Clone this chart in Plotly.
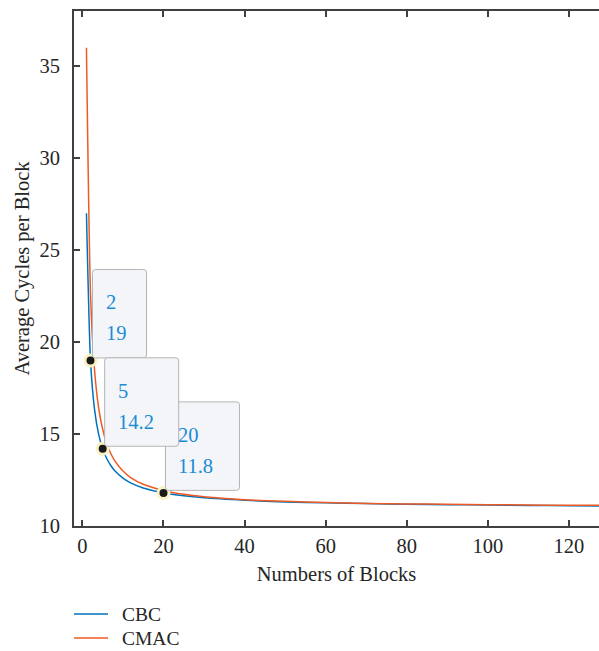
import plotly.graph_objects as go

# ---- data ----
blocks = [1, 2, 3, 4, 5, 6, 7, 8, 10, 12, 15, 20, 25, 30, 40, 50, 60, 70, 80, 90, 100, 110, 120, 130]
cbc = [27, 19, 16.33, 15, 14.2, 13.67, 13.29, 13, 12.6, 12.33, 12.07, 11.8, 11.64, 11.53,
       11.4, 11.31, 11.26, 11.22, 11.18, 11.16, 11.14, 11.12, 11.1, 11.09]
cmac = [36, 22.66, 18.47, 16.44, 15.26, 14.48, 13.94, 13.54, 12.99, 12.62, 12.27, 11.93, 11.72, 11.59,
        11.43, 11.34, 11.28, 11.23, 11.2, 11.18, 11.16, 11.14, 11.13, 11.12]
tip_x = [2, 5, 20]
tip_y = [19, 14.2, 11.8]
tip_x_labels = ["2", "5", "20"]
tip_y_labels = ["19", "14.2", "11.8"]
x_ticks = [0, 20, 40, 60, 80, 100, 120]
y_ticks = [10, 15, 20, 25, 30, 35]
series_names = ["CBC", "CMAC"]

FONT = "Liberation Serif"
FS = 20.5
TXT = "#262626"
BLUE = "#0072BD"
ORANGE = "#EE5A24"
TIPTXT = "#1b8bd4"
colors = [BLUE, ORANGE]

W, H = 599, 651
M = dict(l=74, r=0, t=11, b=125)
PW = W - M["l"] - M["r"]
PH = H - M["t"] - M["b"]

fig = go.Figure()
for name, vals, col in zip(series_names, [cbc, cmac], colors):
    fig.add_trace(go.Scatter(x=blocks, y=vals, mode="lines", name=name, showlegend=False,
                             line=dict(color=col, width=1.5, shape="spline", smoothing=0.6)))
fig.add_trace(go.Scatter(x=tip_x, y=tip_y, mode="markers", showlegend=False,
                         marker=dict(color="#1a1a1a", size=11,
                                     line=dict(color="#f8f2c4", width=3))))

# datatip boxes (pixel offsets relative to the data point)
box_w = [54, 74, 74]
order = [0, 2, 1]


def rounded(x0, y0, x1, y1, r=3):
    return (f"M{x0+r},{y0} L{x1-r},{y0} Q{x1},{y0} {x1},{y0+r} L{x1},{y1-r} "
            f"Q{x1},{y1} {x1-r},{y1} L{x0+r},{y1} Q{x0},{y1} {x0},{y1-r} "
            f"L{x0},{y0+r} Q{x0},{y0} {x0+r},{y0} Z")


for i in order:
    fig.add_shape(type="path", xref="x", yref="y", xsizemode="pixel", ysizemode="pixel",
                  xanchor=tip_x[i], yanchor=tip_y[i],
                  path=rounded(2, 2.5, 2 + box_w[i], 91),
                  fillcolor="#f4f5f9", line=dict(color="#b4b4b4", width=1), layer="above")

for i in range(3):
    fig.add_annotation(x=tip_x[i], y=tip_y[i], text=tip_x_labels[i], showarrow=False,
                       xanchor="left", yanchor="middle", xshift=13, yshift=58,
                       font=dict(family=FONT, size=FS, color=TIPTXT))
    fig.add_annotation(x=tip_x[i], y=tip_y[i], text=tip_y_labels[i], showarrow=False,
                       xanchor="left", yanchor="middle", xshift=13, yshift=27,
                       font=dict(family=FONT, size=FS, color=TIPTXT))

# legend below the plot (line sample + label), positioned in pixels
legend_rows_px = [614, 638]
LFS = 19.5
for name, col, py in zip(series_names, colors, legend_rows_px):
    yp = (H - M["b"] - py) / PH
    fig.add_shape(type="line", xref="paper", yref="paper", x0=0, x1=34 / PW, y0=yp, y1=yp,
                  line=dict(color=col, width=1.5))
    fig.add_annotation(xref="paper", yref="paper", x=47 / PW, y=yp, text=name, showarrow=False,
                       xanchor="left", yanchor="middle", borderpad=0,
                       font=dict(family=FONT, size=LFS, color=TXT))

axis_common = dict(showgrid=False, zeroline=False, showline=True, linecolor="#404040",
                   linewidth=2, ticks="inside", ticklen=6, tickwidth=1.5, tickcolor="#404040",
                   tickfont=dict(family=FONT, size=FS, color=TXT))

fig.update_xaxes(range=[-2.07, 127.4], tickvals=x_ticks, mirror="ticks",
                 title=dict(text="Numbers of Blocks", font=dict(family=FONT, size=FS, color=TXT),
                            standoff=11),
                 ticklabelstandoff=0, **axis_common)
fig.update_yaxes(range=[10, 38], tickvals=y_ticks, mirror=False,
                 title=dict(text="Average Cycles per Block", font=dict(family=FONT, size=FS, color=TXT),
                            standoff=4),
                 ticklabelstandoff=8, **axis_common)

fig.update_layout(
    width=W, height=H,
    margin=dict(**M, autoexpand=False),
    plot_bgcolor="white", paper_bgcolor="white",
    showlegend=False,
    font=dict(family=FONT, color=TXT),
)

fig.write_html("out.html")
